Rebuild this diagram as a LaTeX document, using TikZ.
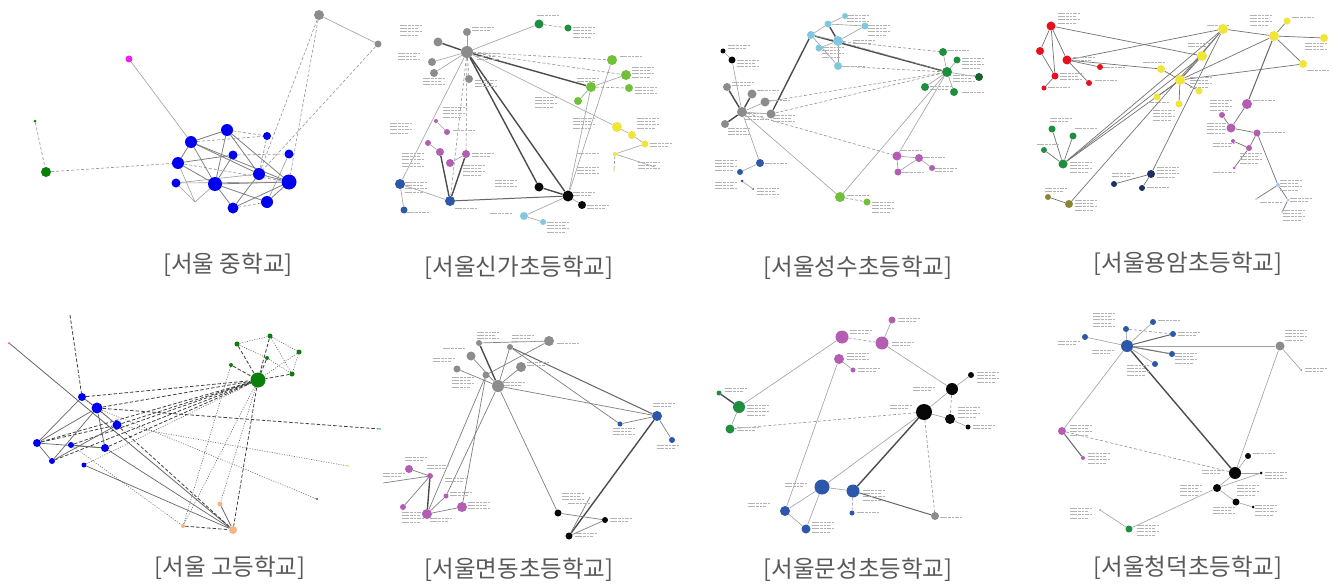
\documentclass[tikz,border=0pt]{standalone}
\usepackage{fontspec}
\newfontfamily\kr{Noto Sans CJK KR}
\pgfdeclarelayer{bg}
\pgfsetlayers{bg,main}
\definecolor{pblue}{HTML}{0000F0}
\definecolor{pgreen}{HTML}{0A800A}
\definecolor{pmag}{HTML}{F020F0}
\definecolor{pgray}{HTML}{8C8C8C}
\definecolor{dgreen}{HTML}{1F8E3F}
\definecolor{lgreen}{HTML}{72BF3A}
\definecolor{yel}{HTML}{F2E53A}
\definecolor{pur}{HTML}{B35DB3}
\definecolor{mblue}{HTML}{2D57A8}
\definecolor{lblue}{HTML}{80C8E0}
\definecolor{redone}{HTML}{E8101E}
\definecolor{nvy}{HTML}{1E2E66}
\definecolor{olv}{HTML}{8C8432}
\definecolor{org}{HTML}{F5B388}
\definecolor{pblu}{HTML}{A9C9F2}
\definecolor{cyn}{HTML}{40D0E0}
\definecolor{blk}{HTML}{080808}
\tikzset{
  dot/.style={circle,inner sep=0pt,draw=none},
  ed/.style={draw=gray!75,line width=0.6pt},
  ew/.style={draw=black!60,line width=1pt},
  ek/.style={draw=black!70,line width=1.4pt},
  edd/.style={draw=gray!85,line width=0.6pt,dash pattern=on 3pt off 2pt},
  edt/.style={draw=black!60,line width=0.6pt,dash pattern=on 1pt off 1.5pt},
  edk/.style={draw=black!75,line width=0.8pt,dash pattern=on 3.5pt off 2pt},
  lbl/.style={draw=gray!60,line width=0.8pt,dash pattern=on 2.5pt off 0.8pt on 4pt off 0.8pt on 3pt off 0.8pt},
  captxt/.style={font=\kr\fontsize{23.5}{28}\selectfont,text=black!65,inner sep=0pt}
}
\newcommand\nd[5]{\node[dot,fill=#5,minimum size=2*#4pt] (#1) at (#2,#3) {};}
\newcommand\lb[3]{\foreach \k in {1,...,#3}{\draw[lbl] ({#1},{#2+3.4*(\k-1)}) -- ++({18+4*mod(\k,2)},0);}}
\begin{document}
\begin{tikzpicture}[x=1pt,y=-1pt]
\useasboundingbox (0,0) rectangle (1338,586);
% ---------------- Panel 1
\nd{a1}{319}{15}{5}{pgray}
\nd{a2}{378}{44}{3.5}{pgray}
\nd{a3}{129}{59}{3.5}{pmag}
\nd{a4}{35}{121}{1.5}{pgreen}
\nd{a5}{46}{172}{5}{pgreen}
\nd{a6}{191}{142}{6}{pblue}
\nd{a7}{227}{130}{6}{pblue}
\nd{a8}{267}{136}{4}{pblue}
\nd{a9}{233}{155}{4.5}{pblue}
\nd{a10}{289}{154}{4.5}{pblue}
\nd{a11}{178}{163}{6}{pblue}
\nd{a12}{176}{183}{4.5}{pblue}
\nd{a13}{215}{184}{7}{pblue}
\nd{a14}{259}{174}{6}{pblue}
\nd{a15}{289}{182}{7.5}{pblue}
\nd{a16}{267}{202}{6}{pblue}
\nd{a17}{233}{208}{5.5}{pblue}
\coordinate (a18) at (195,202);
% ---------------- Panel 2
\nd{b1}{467}{52}{6}{pgray}
\nd{b2}{438}{42}{4.5}{pgray}
\nd{b3}{467}{32}{4}{pgray}
\nd{b4}{432}{62}{4}{pgray}
\nd{b5}{434}{73}{4}{pgray}
\nd{b6}{469}{79}{4}{pgray}
\nd{b7}{539}{24}{4.5}{dgreen}
\nd{b8}{568}{28}{3.5}{dgreen}
\nd{b9}{612}{60}{5}{lgreen}
\nd{b10}{626}{75}{5}{lgreen}
\nd{b11}{591}{87}{5}{lgreen}
\nd{b12}{629}{88}{4}{lgreen}
\nd{b13}{578}{101}{4}{lgreen}
\nd{b14}{617}{127}{5}{yel}
\nd{b15}{632}{135}{4}{yel}
\nd{b16}{645}{144}{3.5}{yel}
\nd{b17}{615}{154}{2}{yel}
\nd{b18}{614}{170}{1}{yel}
\nd{b19}{436}{121}{2}{pur}
\nd{b20}{447}{132}{3}{pur}
\nd{b21}{428}{143}{3}{pur}
\nd{b22}{440}{152}{4}{pur}
\nd{b23}{466}{154}{4}{pur}
\nd{b24}{450}{163}{4}{pur}
\nd{b25}{400}{184}{5}{mblue}
\nd{b26}{404}{210}{3.5}{mblue}
\nd{b27}{450}{201}{5}{mblue}
\nd{b28}{539}{187}{4.5}{blk}
\nd{b29}{568}{196}{5.5}{blk}
\nd{b30}{582}{205}{4}{blk}
\nd{b31}{524}{216}{4}{lblue}
\nd{b32}{543}{222}{3}{lblue}
\coordinate (b33) at (655,167);
% ---------------- Panel 3
\nd{c1}{845}{16}{3}{lblue}
\nd{c2}{828}{24}{3.5}{lblue}
\nd{c3}{865}{26}{3.5}{lblue}
\nd{c4}{811}{35}{4}{lblue}
\nd{c5}{838}{41}{5}{lblue}
\nd{c6}{819}{48}{3.5}{lblue}
\nd{c7}{838}{66}{4}{lblue}
\nd{c8}{943}{52}{4}{dgreen}
\nd{c9}{957}{60}{3.5}{dgreen}
\nd{c10}{947}{72}{5}{dgreen}
\nd{c11}{979}{77}{4}{dgreen!70!black}
\nd{c12}{925}{87}{4}{dgreen}
\nd{c13}{954}{92}{4}{dgreen}
\nd{c14}{723}{51}{2.5}{blk}
\nd{c15}{732}{60}{3.5}{blk}
\nd{c16}{727}{87}{4}{pgray}
\nd{c17}{752}{94}{4.5}{pgray}
\nd{c18}{765}{102}{4.5}{pgray}
\nd{c19}{742}{112}{5}{pgray}
\nd{c20}{771}{114}{4.5}{pgray}
\nd{c21}{725}{124}{4}{pgray}
\nd{c22}{760}{163}{4}{mblue}
\nd{c23}{740}{172}{3}{mblue}
\nd{c24}{742}{181}{1.5}{mblue}
\nd{c25}{753}{189}{1}{mblue}
\nd{c26}{897}{156}{4.5}{pur}
\nd{c27}{919}{158}{4}{pur}
\nd{c28}{898}{172}{3.5}{pur}
\nd{c29}{932}{168}{3}{pur}
\nd{c30}{840}{197}{5}{lgreen}
\nd{c31}{867}{202}{3.5}{lgreen}
% ---------------- Panel 4
\nd{d1}{1051}{26}{4.5}{redone}
\nd{d2}{1040}{51}{4}{redone}
\nd{d3}{1067}{60}{4.5}{redone}
\nd{d4}{1100}{67}{3}{redone}
\nd{d5}{1055}{76}{3.5}{redone}
\nd{d6}{1089}{83}{3}{redone}
\nd{d7}{1044}{88}{2.5}{redone}
\nd{d8}{1223}{29}{5}{yel}
\nd{d9}{1287}{21}{3.5}{yel}
\nd{d10}{1274}{36}{5}{yel}
\nd{d11}{1324}{38}{4}{yel}
\nd{d12}{1202}{56}{5}{yel}
\nd{d13}{1303}{64}{4}{yel}
\nd{d14}{1161}{69}{4}{yel}
\nd{d15}{1180}{80}{5}{yel}
\nd{d16}{1199}{91}{3.5}{yel}
\nd{d17}{1157}{97}{3.5}{yel}
\nd{d18}{1179}{104}{3.5}{yel}
\nd{d19}{1247}{104}{5}{pur}
\nd{d20}{1222}{115}{3}{pur}
\nd{d21}{1231}{128}{4.5}{pur}
\nd{d22}{1257}{133}{3.5}{pur}
\nd{d23}{1233}{141}{2}{pur}
\nd{d24}{1249}{148}{3}{pur}
\nd{d25}{1234}{168}{1.5}{pur}
\nd{d26}{1278}{185}{2}{pblu}
\nd{d27}{1288}{200}{1.5}{pblu}
\nd{d28}{1256}{199}{1}{pblu}
\nd{d29}{1282}{212}{1}{pblu}
\nd{d30}{1052}{129}{3.5}{dgreen}
\nd{d31}{1073}{136}{3.5}{dgreen}
\nd{d32}{1044}{150}{3}{dgreen}
\nd{d33}{1063}{164}{4.5}{dgreen}
\nd{d34}{1151}{174}{4}{nvy}
\nd{d35}{1114}{184}{3}{nvy}
\nd{d36}{1142}{188}{3}{nvy}
\nd{d37}{1048}{197}{3}{olv}
\nd{d38}{1069}{204}{4}{olv}
% ---------------- Panel 5
\nd{e1}{82}{397}{4}{pblue}
\nd{e2}{97}{408}{5.5}{pblue}
\nd{e3}{117}{425}{4.5}{pblue}
\nd{e4}{37}{443}{4}{pblue}
\nd{e5}{71}{445}{3}{pblue}
\nd{e6}{105}{448}{4}{pblue}
\nd{e7}{52}{461}{3}{pblue}
\nd{e8}{84}{465}{2.5}{pblue}
\nd{e9}{258}{380}{7.5}{pgreen}
\nd{e10}{237}{344}{2.5}{pgreen}
\nd{e11}{270}{336}{2.5}{pgreen}
\nd{e12}{299}{352}{2.5}{pgreen}
\nd{e13}{267}{358}{2}{pgreen}
\nd{e14}{231}{365}{2}{pgreen}
\nd{e15}{292}{374}{2.5}{pgreen}
\nd{e16}{220}{504}{2.5}{org}
\nd{e17}{183}{526}{2}{org}
\nd{e18}{233}{530}{4}{org}
\nd{e19}{9}{343}{1}{pmag}
\nd{e20}{380}{429}{1.2}{cyn}
\nd{e21}{348}{466}{1.2}{yel}
\nd{e22}{317}{499}{1.2}{pgreen}
\coordinate (e23) at (70,315);
% ---------------- Panel 6
\nd{f1}{498}{386}{6}{pgray}
\nd{f2}{479}{343}{3}{pgray}
\nd{f3}{510}{347}{3}{pgray}
\nd{f4}{549}{341}{5}{pgray}
\nd{f5}{471}{356}{4.5}{pgray}
\nd{f6}{457}{369}{3.5}{pgray}
\nd{f7}{486}{375}{3.5}{pgray}
\nd{f8}{521}{367}{5}{pgray}
\nd{f9}{657}{416}{5}{mblue}
\nd{f10}{620}{424}{2.5}{mblue}
\nd{f11}{672}{440}{3}{mblue}
\nd{f12}{409}{469}{4}{pur}
\nd{f13}{430}{476}{3}{pur}
\nd{f14}{446}{496}{2.5}{pur}
\nd{f15}{403}{507}{3}{pur}
\nd{f16}{427}{514}{5}{pur}
\nd{f17}{462}{507}{5}{pur}
\nd{f18}{558}{513}{3.5}{blk}
\nd{f19}{605}{520}{3}{blk}
\nd{f20}{569}{536}{3.5}{blk}
\coordinate (f21) at (383,483);
\coordinate (f22) at (590,497);
% ---------------- Panel 7
\nd{g1}{892}{320}{3.5}{pur}
\nd{g2}{842}{337}{6.5}{pur}
\nd{g3}{882}{343}{6.5}{pur}
\nd{g4}{839}{359}{5}{pur}
\nd{g5}{853}{370}{2.5}{pur}
\nd{g6}{971}{375}{3}{blk}
\nd{g7}{952}{389}{6}{blk}
\nd{g8}{924}{412}{8}{blk}
\nd{g9}{950}{419}{5}{blk}
\nd{g10}{968}{427}{2.5}{blk}
\nd{g11}{719}{393}{2.5}{dgreen}
\nd{g12}{739}{407}{6}{dgreen}
\nd{g13}{730}{429}{4.5}{dgreen}
\nd{g14}{822}{487}{7.5}{mblue}
\nd{g15}{853}{491}{6.5}{mblue}
\nd{g16}{785}{511}{5}{mblue}
\nd{g17}{852}{513}{2.5}{mblue}
\nd{g18}{806}{529}{4.5}{mblue}
\nd{g19}{935}{516}{4}{pgray}
% ---------------- Panel 8
\nd{h1}{1127}{346}{6}{mblue}
\nd{h2}{1126}{329}{3}{mblue}
\nd{h3}{1153}{322}{3}{mblue}
\nd{h4}{1173}{334}{3}{mblue}
\nd{h5}{1085}{337}{3}{mblue}
\nd{h6}{1172}{354}{3}{mblue}
\nd{h7}{1155}{364}{3}{mblue}
\nd{h8}{1280}{346}{4.5}{pgray}
\nd{h9}{1301}{370}{1}{pgray}
\nd{h10}{1062}{431}{4}{pur}
\nd{h11}{1083}{458}{2}{pur}
\nd{h12}{1235}{473}{6}{blk}
\nd{h13}{1248}{456}{3}{blk}
\nd{h14}{1261}{473}{1.5}{blk}
\nd{h15}{1217}{488}{4}{blk}
\nd{h16}{1236}{502}{3.5}{blk}
\nd{h17}{1253}{507}{1.5}{blk}
\nd{h18}{1129}{529}{3.5}{dgreen}
\nd{h19}{1100}{510}{1}{lgreen}
% ---------------- captions
\node[captxt] (t1) at (228,265) {[서울 중학교]};
\node[captxt] (t2) at (519,268) {[서울신가초등학교]};
\node[captxt] (t3) at (858,268) {[서울성수초등학교]};
\node[captxt] (t4) at (1188,264) {[서울용암초등학교]};
\node[captxt] (t5) at (230,568) {[서울 고등학교]};
\node[captxt] (t6) at (519,570) {[서울면동초등학교]};
\node[captxt] (t7) at (858,570) {[서울문성초등학교]};
\node[captxt] (t8) at (1188,568) {[서울청덕초등학교]};
\begin{pgfonlayer}{bg}
\fill[white] (0,0) rectangle (1338,586);
% panel 1 edges
\foreach \u/\v in {a1/a2,a3/a6,a11/a18,a12/a18,a18/a13,a12/a14,a12/a15,a10/a16} \draw[ed] (\u)--(\v);
\foreach \u/\v in {a2/a14,a5/a11,a4/a5,a1/a14,a1/a15,a7/a8,a6/a8,a9/a10,a11/a15,a16/a17,a8/a14} \draw[edd] (\u)--(\v);
\foreach \u/\v in {a6/a7,a6/a13,a6/a14,a6/a15,a7/a13,a7/a15,a13/a15,a13/a16,a13/a17,a14/a17,a14/a15,a15/a16,a17/a15,a9/a13,a11/a9,a6/a11,a11/a13,a7/a14} \draw[ew,draw=black!50,line width=0.8pt] (\u)--(\v);
% panel 2 edges
\foreach \u/\v in {b2/b1,b1/b11,b1/b28,b1/b29,b28/b29,b22/b27,b23/b27} \draw[ek] (\u)--(\v);
\draw[ew] (b27)--(b29);
\foreach \u/\v in {b1/b3,b1/b4,b1/b5,b1/b7,b1/b14,b1/b25,b11/b13,b9/b29,b11/b29,b14/b15,b15/b16,b17/b16,b17/b33,b19/b20,b21/b22,b23/b24,b25/b26,b25/b27,b29/b30,b29/b31,b31/b32,b11/b10} \draw[ed] (\u)--(\v);
\foreach \u/\v in {b1/b6,b7/b8,b1/b9,b1/b10,b11/b12,b17/b18,b1/b27,b1/b23} \draw[edd] (\u)--(\v);
% panel 3 edges
\foreach \u/\v in {c20/c4,c2/c5,c4/c10,c19/c16,c19/c17,c19/c21} \draw[ek] (\u)--(\v);
\foreach \u/\v in {c19/c18,c19/c20,c19/c15,c14/c15,c19/c30,c19/c22,c22/c23,c24/c25,c10/c26,c10/c30,c10/c8,c10/c9,c10/c11,c10/c12,c10/c13,c26/c27,c27/c28,c27/c29,c26/c28,c4/c2,c4/c5,c2/c1,c2/c3,c5/c3,c5/c6,c4/c7,c5/c7} \draw[ed] (\u)--(\v);
\foreach \u/\v in {c18/c10,c20/c10,c19/c26,c5/c10,c7/c10,c30/c31,c5/c8} \draw[edd] (\u)--(\v);
% panel 4 edges
\foreach \u/\v in {d1/d2,d1/d5,d1/d3,d1/d12,d3/d6,d3/d4,d3/d14,d3/d8,d2/d5,d5/d7,d8/d10,d10/d9,d10/d11,d10/d13,d8/d15,d12/d15,d14/d15,d15/d16,d15/d18,d15/d17,d15/d13,d10/d15,d19/d21,d21/d20,d21/d22,d22/d24,d24/d23,d24/d25,d22/d26,d26/d27,d26/d28,d27/d29,d8/d33,d12/d33,d15/d33,d8/d38,d8/d34,d34/d35,d34/d36,d37/d38,d33/d30,d33/d31,d33/d32} \draw[ed,draw=black!55,line width=0.7pt] (\u)--(\v);
\draw[ew] (d10)--(d19);
% panel 5 edges
\draw[edk] (e23)--(e1);
\draw[ed,draw=black!60,line width=0.8pt] (e19)--(e18);
\foreach \u/\v in {e1/e9,e2/e9,e3/e9,e4/e9,e5/e9,e6/e9,e7/e9,e2/e20,e9/e18,e17/e18,e4/e3,e3/e18,e14/e9,e10/e9,e11/e9,e15/e9,e13/e9} \draw[edk] (\u)--(\v);
\foreach \u/\v in {e8/e9,e3/e21,e2/e22,e9/e17,e14/e17,e9/e16,e5/e17,e10/e11,e11/e12,e12/e15,e13/e15,e12/e9,e10/e13,e11/e15,e1/e3} \draw[edt] (\u)--(\v);
\foreach \u/\v in {e16/e18,e4/e1,e4/e2,e4/e6,e4/e7,e1/e2,e2/e3,e2/e6,e5/e6,e7/e3,e7/e2,e6/e18,e8/e18} \draw[ed,draw=black!60,line width=0.7pt] (\u)--(\v);
% panel 6 edges
\foreach \u/\v in {f2/f1,f9/f20,f13/f16} \draw[ek] (\u)--(\v);
\draw[ew] (f3)--(f9);
\foreach \u/\v in {f2/f4,f3/f1,f3/f10,f4/f7,f5/f1,f6/f1,f8/f1,f7/f16,f1/f9,f1/f18,f1/f14,f9/f10,f9/f11,f18/f19,f19/f20,f20/f22,f12/f13,f16/f17,f16/f14,f15/f13,f21/f13,f7/f17} \draw[ed,draw=black!50,line width=0.7pt] (\u)--(\v);
% panel 7 edges
\foreach \u/\v in {g3/g1,g2/g12,g4/g5,g4/g16,g3/g7,g7/g6,g7/g8,g8/g9,g9/g10,g8/g14,g14/g15,g14/g16,g14/g18,g16/g18,g12/g13} \draw[ed] (\u)--(\v);
\foreach \u/\v in {g2/g3,g7/g9,g8/g13,g8/g19,g15/g17} \draw[edd] (\u)--(\v);
\draw[ek] (g8)--(g15);
\draw[ew] (g15)--(g19);
\draw[ek] (g11)--(g12);
% panel 8 edges
\foreach \u/\v in {h1/h8,h1/h10,h8/h12,h8/h9,h1/h2,h1/h3,h1/h5,h1/h7,h12/h13,h12/h14,h12/h15,h15/h16,h16/h17,h18/h15,h18/h19,h15/h14} \draw[ed] (\u)--(\v);
\foreach \u/\v in {h1/h4,h1/h6,h10/h11} \draw[ew] (\u)--(\v);
\draw[ek] (h1)--(h12);
\foreach \u/\v in {h10/h12,h2/h4,h1/h6} \draw[edd] (\u)--(\v);
% ------------- label marks
% panel 2
\lb{400}{25}{4}\lb{472}{27}{2}\lb{398}{53}{3}\lb{423}{78}{3}\lb{475}{80}{3}\lb{477}{53}{3}
\lb{537}{15}{1}\lb{573}{27}{4}\lb{620}{56}{1}\lb{632}{67}{4}\lb{577}{78}{2}\lb{635}{87}{3}
\lb{535}{97}{4}\lb{573}{118}{4}\lb{637}{118}{4}\lb{650}{143}{2}\lb{577}{153}{1}\lb{638}{162}{3}
\lb{577}{167}{3}\lb{443}{107}{4}\lb{390}{123}{4}\lb{453}{130}{1}\lb{402}{153}{5}\lb{472}{153}{2}
\lb{463}{165}{4}\lb{405}{182}{4}\lb{407}{212}{1}\lb{455}{208}{1}\lb{495}{180}{3}\lb{573}{192}{2}
\lb{587}{205}{2}\lb{490}{213}{1}\lb{547}{222}{4}
% panel 3
\lb{847}{15}{3}\lb{868}{25}{4}\lb{822}{47}{4}\lb{843}{66}{1}\lb{853}{40}{2}\lb{947}{50}{1}
\lb{962}{58}{4}\lb{953}{75}{3}\lb{930}{86}{2}\lb{962}{92}{1}\lb{728}{45}{2}\lb{737}{60}{3}
\lb{732}{82}{2}\lb{757}{90}{1}\lb{768}{100}{1}\lb{745}{113}{3}\lb{773}{115}{3}\lb{728}{128}{3}
\lb{715}{160}{4}\lb{765}{163}{1}\lb{715}{182}{3}\lb{757}{188}{3}\lb{900}{150}{1}\lb{923}{157}{1}
\lb{902}{172}{1}\lb{935}{168}{2}\lb{847}{195}{1}\lb{872}{202}{4}
% panel 4
\lb{1058}{13}{4}\lb{1073}{57}{2}\lb{1103}{67}{1}\lb{1060}{73}{3}\lb{1095}{80}{1}\lb{1048}{87}{1}
\lb{1207}{25}{1}\lb{1250}{15}{4}\lb{1292}{17}{1}\lb{1305}{43}{3}\lb{1188}{43}{2}\lb{1143}{62}{1}
\lb{1190}{77}{4}\lb{1307}{70}{1}\lb{1147}{102}{1}\lb{1153}{110}{4}\lb{1210}{100}{4}\lb{1253}{100}{1}
\lb{1207}{123}{4}\lb{1213}{143}{2}\lb{1263}{132}{1}\lb{1240}{153}{4}\lb{1213}{172}{1}\lb{1050}{118}{2}
\lb{1075}{128}{1}\lb{1037}{144}{1}\lb{1070}{162}{4}\lb{1112}{173}{2}\lb{1157}{167}{4}\lb{1147}{187}{1}
\lb{1045}{188}{2}\lb{1075}{200}{4}\lb{1280}{180}{4}\lb{1290}{198}{2}\lb{1260}{202}{1}\lb{1283}{210}{4}
% panel 6
\lb{477}{332}{3}\lb{512}{335}{3}\lb{557}{343}{1}\lb{443}{348}{1}\lb{433}{358}{2}\lb{452}{377}{4}
\lb{527}{362}{2}\lb{503}{382}{2}\lb{653}{403}{2}\lb{613}{428}{3}\lb{657}{445}{2}\lb{405}{457}{2}
\lb{427}{465}{2}\lb{383}{473}{2}\lb{445}{478}{2}\lb{450}{492}{2}\lb{402}{512}{4}\lb{430}{518}{2}
\lb{468}{502}{3}\lb{562}{493}{3}\lb{568}{503}{1}\lb{610}{518}{2}\lb{575}{533}{2}
% panel 7
\lb{898}{318}{2}\lb{850}{330}{2}\lb{892}{342}{2}\lb{847}{353}{3}\lb{858}{368}{2}\lb{977}{372}{4}
\lb{913}{387}{2}\lb{958}{407}{4}\lb{890}{405}{2}\lb{973}{425}{2}\lb{725}{388}{2}\lb{747}{405}{4}
\lb{737}{427}{2}\lb{785}{483}{2}\lb{863}{490}{4}\lb{748}{503}{2}\lb{857}{512}{1}\lb{812}{522}{4}
\lb{940}{517}{1}
% panel 8
\lb{1093}{313}{5}\lb{1158}{320}{1}\lb{1178}{332}{2}\lb{1058}{341}{2}\lb{1092}{350}{2}\lb{1175}{353}{4}
\lb{1127}{365}{4}\lb{1285}{330}{4}\lb{1305}{368}{2}\lb{1070}{425}{4}\lb{1088}{453}{4}\lb{1253}{453}{1}
\lb{1202}{470}{2}\lb{1265}{472}{3}\lb{1180}{485}{4}\lb{1237}{485}{4}\lb{1213}{507}{3}\lb{1255}{505}{4}
\lb{1070}{508}{4}\lb{1137}{525}{4}
\end{pgfonlayer}
\end{tikzpicture}
\end{document}
